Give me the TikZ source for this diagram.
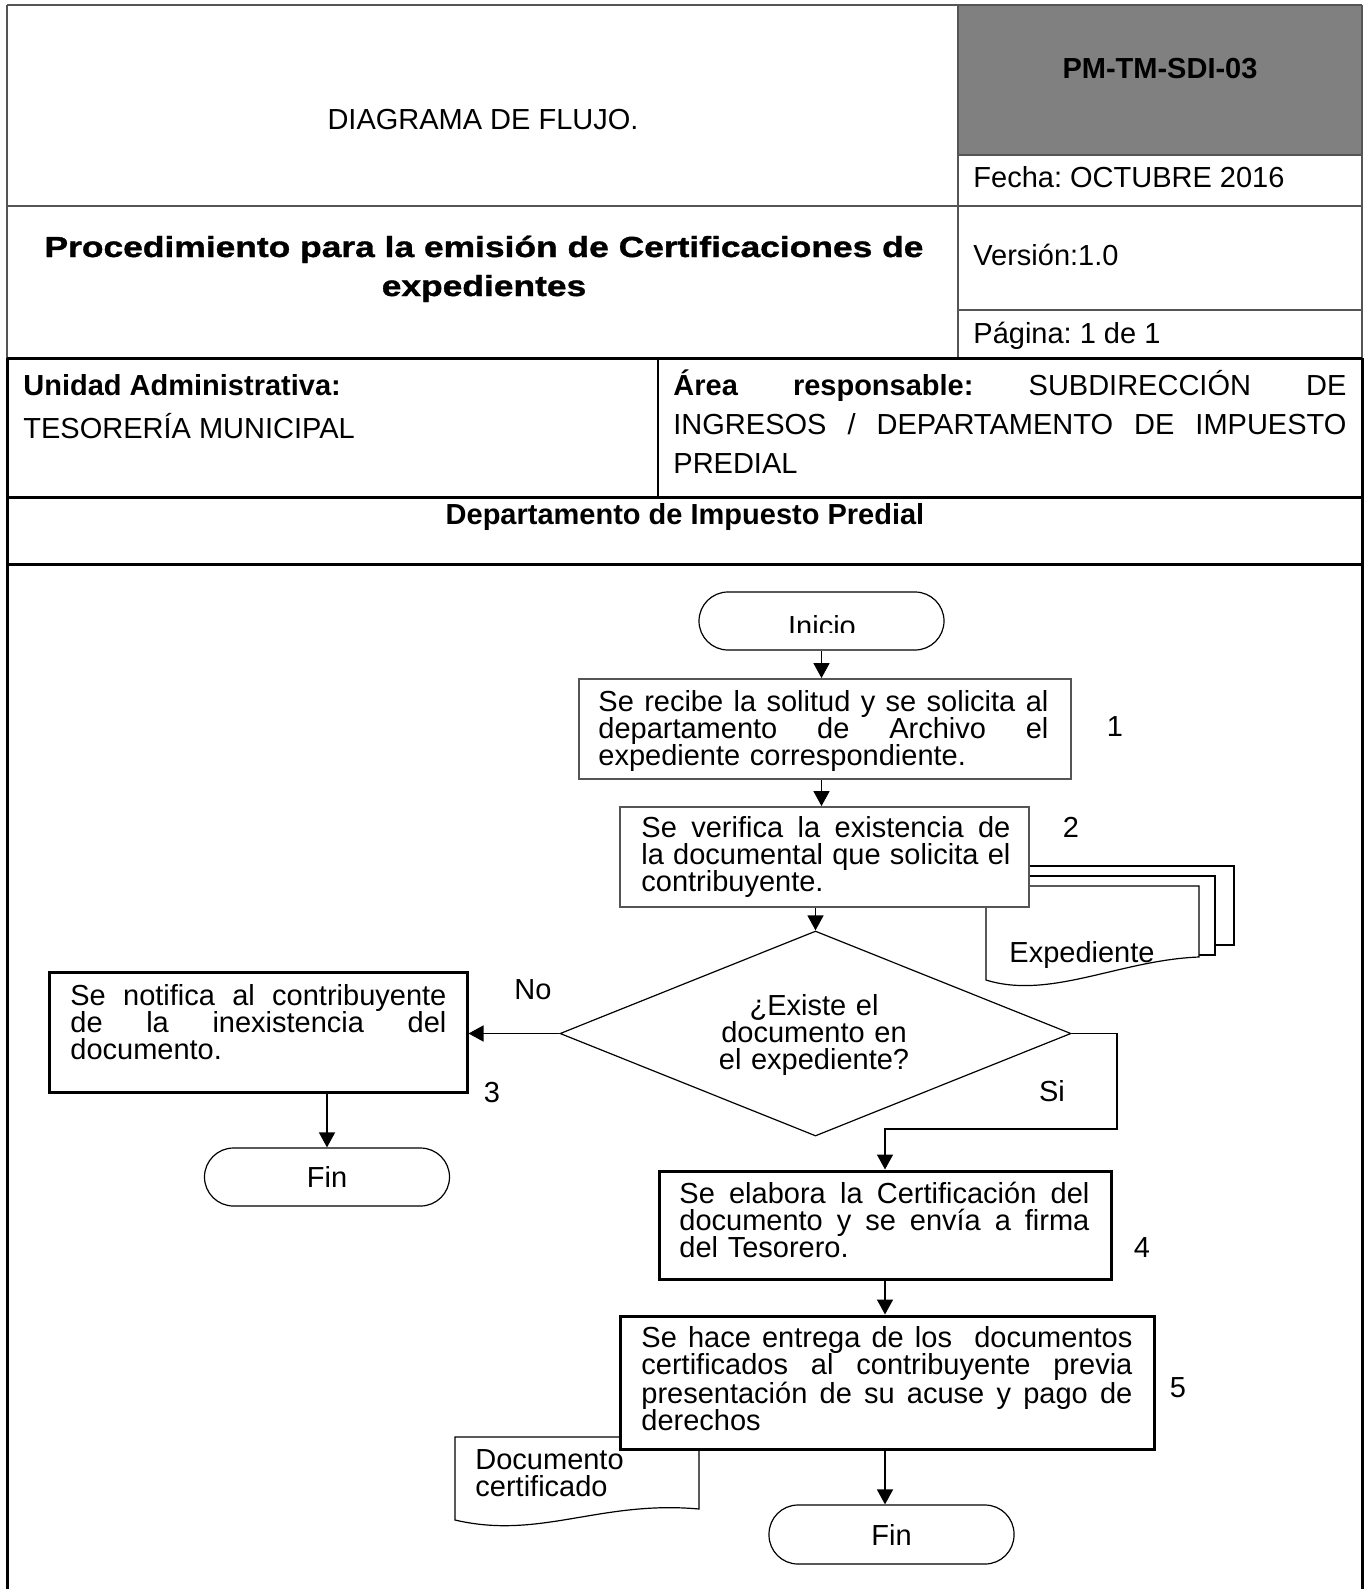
\documentclass[tikz,border=0pt]{standalone}
\usepackage{fontspec}
\setmainfont{Liberation Sans}
\newfontfamily\widebold{Liberation Sans Bold}[FakeStretch=1.22, FakeBold=1.2]
\usetikzlibrary{arrows.meta,shapes.geometric}
\setlength{\lineskiplimit}{-50pt}
\frenchspacing
\newcommand{\fsz}{\fontsize{14.5pt}{13.6pt}\selectfont}
\newcommand{\jl}[2]{\leavevmode\hbox to #1{\spaceskip=0.28em plus 1fil\relax #2}}
\definecolor{hdrgray}{RGB}{128,128,128}
\definecolor{linegray}{RGB}{85,85,85}
\tikzset{
  hline/.style={draw=linegray, line width=1pt},
  heavyline/.style={draw=black, line width=1.5pt},
  thinbox/.style={rectangle, draw=linegray, line width=0.9pt, fill=white, inner sep=0pt},
  thickbox/.style={rectangle, draw=black, line width=1.5pt, fill=white, inner sep=0pt},
  term/.style={rectangle, draw=black, line width=0.6pt, fill=white, rounded corners=14.5pt,
    inner sep=0pt, minimum width=122.5pt, minimum height=29pt, font=\fsz},
  docline/.style={draw=black, line width=0.6pt, fill=white},
  flow/.style={draw=black, line width=0.75pt, -{Triangle[length=7.5pt,width=8pt]}},
  txt/.style={inner sep=0pt, font=\fsz},
}
\begin{document}
\begin{tikzpicture}[x=0.5pt, y=-0.5pt]
\useasboundingbox (0,0) rectangle (1365,1589);
% ---------- header ----------
\fill[hdrgray] (958,5) rectangle (1362,155);
\draw[hline] (7,5) -- (1362,5);
\draw[hline] (7,5) -- (7,358);
\draw[hline] (1362,5) -- (1362,358);
\draw[hline] (958,5) -- (958,358);
\draw[hline] (958,155) -- (1362,155);
\draw[hline] (7,206) -- (1362,206);
\draw[hline] (958,310) -- (1362,310);
\draw[heavyline] (7,358) -- (1362,358);
\draw[draw=black, line width=1pt] (658,358) -- (658,497);
\draw[heavyline] (7,497) -- (1362,497);
\draw[heavyline] (7,564) -- (1362,564);
\draw[heavyline] (7.5,358) -- (7.5,1589);
\draw[heavyline] (1362.5,358) -- (1362.5,1589);

\node[txt, anchor=base] (diag) at (483,130) {DIAGRAMA DE FLUJO.};
\node[txt, anchor=base, font=\fsz\bfseries] (code) at (1160,79) {PM-TM-SDI-03};
\node[txt, anchor=base west] (fecha) at (973,188) {Fecha: OCTUBRE 2016};
\node[txt, anchor=base west] (version) at (973,265) {Versión:1.0};
\node[txt, anchor=base west] (pagina) at (973,343) {Página: 1 de 1};
\node[txt, anchor=base, font=\widebold\fsz] (proc1) at (484,257) {Procedimiento para la emisión de Certificaciones de};
\node[txt, anchor=base, font=\widebold\fsz] (proc2) at (484,296) {expedientes};

\node[txt, anchor=base west, font=\fsz\bfseries] (unidad) at (23,395) {Unidad Administrativa:};
\node[txt, anchor=base west] (teso) at (23,438) {TESORERÍA MUNICIPAL};
\node[txt, anchor=base west] (area1) at (673,395) {\jl{336.5pt}{\textbf{Área responsable:} SUBDIRECCIÓN DE}};
\node[txt, anchor=base west] (area2) at (673,434) {\jl{336.5pt}{INGRESOS / DEPARTAMENTO DE IMPUESTO}};
\node[txt, anchor=base west] (area3) at (673,473) {PREDIAL};
\node[txt, anchor=base, font=\fsz\bfseries] (depto) at (685,524) {Departamento de Impuesto Predial};

% ---------- documents ----------
\draw[docline] (1020,866) rectangle (1234,945);
\draw[docline] (1003,876) rectangle (1215,955);
\draw[docline] (986,886) -- (1199,886) -- (1199,957) .. controls (1120,960) and (1050,1000) .. (986,980) -- cycle;
\node[txt, anchor=base west] (exp) at (1009,962) {Expediente};

\draw[docline] (455,1437) -- (699,1437) -- (699,1509) .. controls (600,1500) and (540,1540) .. (455,1520) -- cycle;
\node[txt, anchor=base west, text width=110pt] (doccert) at (475,1469) {Documento\\certificado};

% ---------- flowchart ----------
\node[term] (inicio) at (821.5,621) {};
\begin{scope}
  \clip (699,592) rectangle (944,632);
  \node[txt, anchor=base] (iniciotxt) at (822,636) {Inicio};
\end{scope}

\node[thinbox, minimum width=246pt, minimum height=50pt] (b1) at (825,729) {};
\node[txt, anchor=base west, text width=225pt] (t1) at (598,711)
  {\jl{225pt}{Se recibe la solitud y se solicita al}\\\jl{225pt}{departamento de Archivo el}\\expediente correspondiente.};
\node[txt] (n1) at (1115,727) {1};

\node[thinbox, minimum width=204.5pt, minimum height=50pt] (b2) at (824.5,857) {};
\node[txt, anchor=base west, text width=184.5pt] (t2) at (641,837)
  {\jl{184.5pt}{Se verifica la existencia de}\\\jl{184.5pt}{la documental que solicita el}\\contribuyente.};
\node[txt] (n2) at (1071,827) {2};

\node[diamond, draw=black, line width=0.6pt, fill=white, minimum width=255.5pt, minimum height=102.5pt, inner sep=0pt] (dec) at (815.5,1033.5) {};
\node[txt, anchor=base, text width=130pt, align=center] (dectxt) at (814,1015) {¿Existe el\\documento en\\el expediente?};
\node[txt] (no) at (533,990) {No};
\node[txt] (si) at (1052,1091) {Si};

\node[thickbox, minimum width=209pt, minimum height=60pt] (b3) at (258,1032) {};
\node[txt, anchor=base west, text width=188pt] (t3) at (70,1005)
  {\jl{188pt}{Se notifica al contribuyente}\\\jl{188pt}{de la inexistencia del}\\documento.};
\node[txt] (n3) at (492,1093) {3};

\node[term] (fin1) at (327,1177) {Fin};

\node[thickbox, minimum width=226pt, minimum height=54pt] (b4) at (885,1225) {};
\node[txt, anchor=base west, text width=205pt] (t4) at (679,1203)
  {\jl{205pt}{Se elabora la Certificación del}\\\jl{205pt}{documento y se envía a firma}\\del Tesorero.};
\node[txt] (n4) at (1142,1248) {4};

\node[thickbox, minimum width=267pt, minimum height=66.5pt] (b5) at (887,1382.5) {};
\node[txt, anchor=base west, text width=245.5pt] (t5) at (641,1347)
  {\jl{245.5pt}{Se hace entrega de los \ documentos}\\\jl{245.5pt}{certificados al contribuyente previa}\\\jl{245.5pt}{presentación de su acuse y pago de}\\derechos};
\node[txt] (n5) at (1178,1388) {5};

\node[term, minimum height=29.5pt] (fin2) at (891.5,1534.5) {Fin};

% ---------- connectors ----------
\coordinate (sicorner) at (1117,1129);
\draw[flow] (inicio.south) -- (inicio.south |- b1.north);
\draw[flow] (b1.south -| inicio.south) -- (b2.north -| inicio.south);
\draw[flow] (b2.south -| dec.north) -- (dec.north);
\draw[flow] (dec.west) -- (dec.west -| b3.east);
\draw[flow] (dec.east) -| (sicorner) -| (b4.north);
\draw[flow] (b3.south -| fin1.north) -- (fin1.north);
\draw[flow] (b4.south) -- (b5.north -| b4.south);
\draw[flow] (b5.south -| b4.south) -- (fin2.north -| b4.south);
\end{tikzpicture}
\end{document}
